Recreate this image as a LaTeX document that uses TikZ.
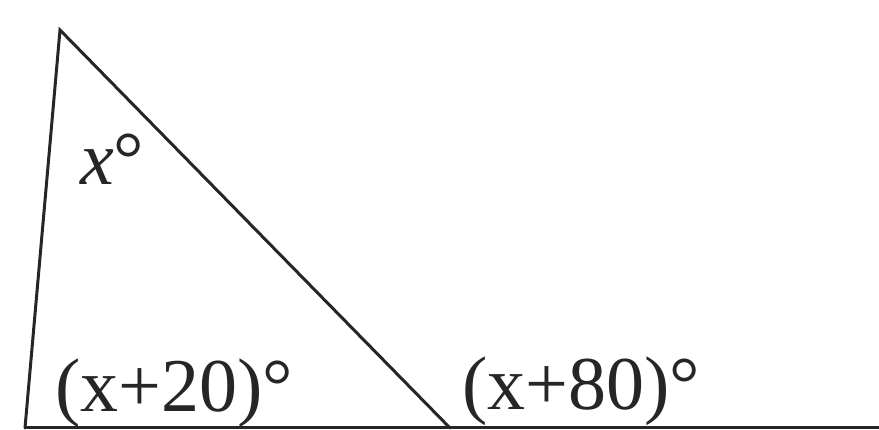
\documentclass[tikz,border=0pt]{standalone}
\usepackage{fontspec}
\setmainfont{Liberation Serif}
\usepackage{tikz}

\begin{document}
\begin{tikzpicture}[
    x=1pt, y=1pt,
    side/.style={line width=3pt, line cap=round, line join=miter, black!85},
    angle/.style={inner sep=0pt, anchor=base west, font=\fontsize{76}{80}\selectfont, black!85}
  ]
  \useasboundingbox (0,0) rectangle (879,430);

  \coordinate (top) at (60,400);
  \coordinate (left) at (25,2);
  \coordinate (right) at (450,2);
  \coordinate (far) at (881,2);

  \draw[side] (left) -- (top) -- (right);
  \draw[side, line cap=butt] (left) -- (far);

  \node[angle] (atop) at (80,245) {\itshape x\upshape°};
  \node[angle] (aleft) at (55,18) {(x+20)°};
  \node[angle] (aext) at (462,20) {(x+80)°};
\end{tikzpicture}
\end{document}
